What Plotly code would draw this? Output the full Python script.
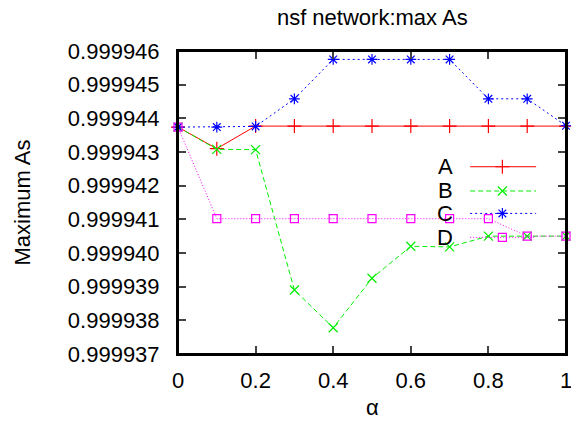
import plotly.graph_objects as go

alpha = [0, 0.1, 0.2, 0.3, 0.4, 0.5, 0.6, 0.7, 0.8, 0.9, 1.0]
series_A = [0.99994374, 0.99994310, 0.99994377, 0.99994377, 0.99994377, 0.99994377,
            0.99994377, 0.99994377, 0.99994377, 0.99994377, 0.99994377]
series_B = [0.99994374, 0.99994308, 0.99994307, 0.99993890, 0.99993778, 0.99993925,
            0.99994020, 0.99994018, 0.99994050, 0.99994050, 0.99994050]
series_C = [0.99994374, 0.99994374, 0.99994376, 0.99994458, 0.99994575, 0.99994575,
            0.99994575, 0.99994575, 0.99994458, 0.99994458, 0.99994378]
series_D = [0.99994374, 0.99994102, 0.99994102, 0.99994102, 0.99994102, 0.99994102,
            0.99994102, 0.99994102, 0.99994102, 0.99994050, 0.99994050]
names = ["A", "B", "C", "D"]
y_ticks = [0.999937, 0.999938, 0.999939, 0.999940, 0.999941, 0.999942,
           0.999943, 0.999944, 0.999945, 0.999946]
x_ticks = [0, 0.2, 0.4, 0.6, 0.8, 1]
x_tick_labels = ["0", "0.2", "0.4", "0.6", "0.8", "1"]
Y_RANGE = [0.999937, 0.999946]

styles = [
    dict(color="#ff0000", dash="solid", symbol="cross-thin", size=10),
    dict(color="#00ee00", dash="5px,3px", symbol="x-thin", size=9),
    dict(color="#0000ff", dash="2px,3px", symbol="asterisk", size=9),
    dict(color="#ff00ff", dash="1px,2px", symbol="square-open", size=8),
]

FONT = "Liberation Sans, Arial, sans-serif"
FS = 22
fig = go.Figure()

# gnuplot-style key: label text then line sample (positions as fractions of plot area)
key_y = [0.618, 0.538, 0.464, 0.385]
for name, ky, st in zip(names, key_y, styles):
    fig.add_shape(type="line", xref="paper", yref="paper", x0=0.753, x1=0.923,
                  y0=ky, y1=ky, layer="above",
                  line=dict(color=st["color"], width=1, dash=st["dash"]))
    yk = Y_RANGE[0] + ky * (Y_RANGE[1] - Y_RANGE[0])
    fig.add_trace(go.Scatter(
        x=[0.836], y=[yk], mode="markers", showlegend=False, hoverinfo="skip",
        marker=dict(symbol=st["symbol"], size=st["size"], color=st["color"],
                    line=dict(color=st["color"], width=1.2)),
    ))
    fig.add_annotation(x=0.715, y=ky, xref="paper", yref="paper", text=name,
                       showarrow=False, xanchor="right", yanchor="middle",
                       font=dict(family=FONT, size=FS, color="black"))

all_series = [series_A, series_B, series_C, series_D]
for name, ys, st in zip(names, all_series, styles):
    fig.add_trace(go.Scatter(
        x=alpha, y=ys, mode="lines+markers", name=name, showlegend=False,
        cliponaxis=False,
        line=dict(color=st["color"], width=1, dash=st["dash"]),
        marker=dict(symbol=st["symbol"], size=st["size"], color=st["color"],
                    line=dict(color=st["color"], width=1.2)),
    ))

# plot frame
fig.add_shape(type="rect", xref="paper", yref="paper", x0=0, x1=1, y0=0, y1=1,
              layer="above", line=dict(color="black", width=2))

# axis titles
fig.add_annotation(x=0, y=0.5, xref="paper", yref="paper", text="Maximum As",
                   textangle=-90, showarrow=False, xanchor="center", yanchor="middle",
                   xshift=-156, font=dict(family=FONT, size=FS, color="black"))
fig.add_annotation(x=0.5, y=0, xref="paper", yref="paper", text="α",
                   showarrow=False, xanchor="center", yanchor="middle",
                   yshift=-53, font=dict(family=FONT, size=FS, color="black"))

fig.update_layout(
    width=571, height=430,
    margin=dict(l=178, r=5, t=51, b=76, autoexpand=False),
    paper_bgcolor="white", plot_bgcolor="white",
    font=dict(family=FONT, size=FS, color="black"),
    title=dict(text="nsf network:max As", x=0.652, xanchor="center",
               y=0.96, yanchor="middle", font=dict(family=FONT, size=FS)),
    xaxis=dict(range=[0, 1], tickvals=x_ticks, ticktext=x_tick_labels,
               ticks="inside", ticklen=8, tickwidth=1.5, mirror="allticks",
               showline=True, linewidth=2, linecolor="black", showgrid=False,
               zeroline=False, automargin=False, ticklabelstandoff=6,
               ticklabeloverflow="allow"),
    yaxis=dict(range=Y_RANGE, tickvals=y_ticks,
               ticktext=["%.6f" % v for v in y_ticks],
               ticks="inside", ticklen=8, tickwidth=1.5, mirror="allticks",
               showline=True, linewidth=2, linecolor="black", showgrid=False,
               zeroline=False, automargin=False, ticklabelstandoff=12,
               ticklabeloverflow="allow"),
)

fig.write_html(
    "out.html",
    config={"displayModeBar": False},
    post_script="document.body.style.margin='0';document.body.style.overflow='hidden';",
)
